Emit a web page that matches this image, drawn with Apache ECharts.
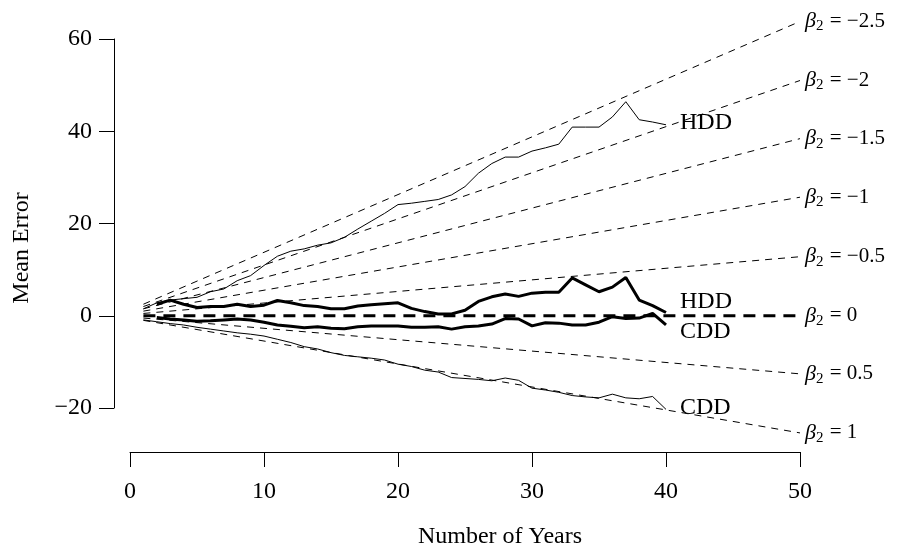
<!DOCTYPE html>
<html>
<head>
<meta charset="utf-8">
<title>Mean Error</title>
<script src="https://cdn.jsdelivr.net/npm/echarts@6.0.0/dist/echarts.min.js"></script>
<style>
  html, body { margin: 0; padding: 0; background: #fff; }
  #chart { width: 898px; height: 550px; }
</style>
</head>
<body>
<div id="chart"></div>
<script>
// years for the thin lines start at 1, thick ones at 2
var years = [1,2,3,4,5,6,7,8,9,10,11,12,13,14,15,16,17,18,19,20,
             21,22,23,24,25,26,27,28,29,30,31,32,33,34,35,36,37,38,39,40];
var hddThin = [1.5,2.8,3.4,3.7,4.0,5.2,5.8,7.6,8.7,10.9,12.9,14.0,14.5,15.3,15.8,17.0,18.8,20.5,22.2,24.1,
               24.4,24.8,25.2,26.2,28.0,30.9,33.0,34.4,34.4,35.7,36.4,37.2,40.9,40.9,40.9,43.1,46.4,42.5,42.0,41.4];
var cddThin = [-0.9,-1.3,-1.7,-2.0,-2.5,-2.9,-3.3,-3.7,-4.0,-4.4,-5.1,-5.8,-6.7,-7.2,-8.0,-8.6,-8.9,-9.2,-9.6,-10.5,
               -11.0,-11.8,-12.2,-13.4,-13.6,-13.8,-14.1,-13.5,-14.0,-15.7,-16.1,-16.6,-17.3,-17.6,-17.8,-17.0,-17.8,-18.0,-17.5,-20.3];
var hddThick = [2.5,3.4,2.5,1.8,2.0,2.0,2.5,2.0,2.3,3.3,2.8,2.2,2.0,1.5,1.5,2.1,2.4,2.6,2.8,
                1.6,0.9,0.4,0.4,1.2,3.1,4.1,4.7,4.2,4.9,5.1,5.1,8.2,6.7,5.2,6.2,8.3,3.4,2.2,0.7];
var cddThick = [-0.4,-0.7,-0.9,-1.2,-1.1,-0.9,-0.7,-0.9,-1.4,-2.0,-2.3,-2.6,-2.4,-2.7,-2.8,-2.4,-2.2,-2.2,-2.2,
                -2.5,-2.5,-2.4,-2.9,-2.4,-2.2,-1.8,-0.6,-0.7,-2.2,-1.5,-1.6,-2.0,-2.0,-1.4,-0.2,-0.6,-0.5,0.5,-2.0];

// reference lines for each beta_2, from year 1 to year 50
var betas = ['-2.5', '-2', '-1.5', '-1', '-0.5', '0', '0.5', '1'];
var betaStart = [2.5, 2, 1.5, 1, 0.5, 0, -0.5, -1];
var betaEnd = [63.8, 51, 38.4, 25.7, 12.8, 0, -12.6, -25.4];
var betaX = [1, 50];

var xTicks = [0, 10, 20, 30, 40, 50];
var yTicks = [-20, 0, 20, 40, 60];

var FONT = 'Liberation Serif';

function minus(s) {
    return String(s).replace('-', '\u2212');
}

function pairs(xs, ys, from) {
    var out = [];
    for (var i = 0; i < ys.length; i++) {
        out.push([xs[i + from], ys[i]]);
    }
    return out;
}

var series = [];

for (var k = 0; k < betas.length; k++) {
    var isZero = betas[k] == '0';
    series.push({
        type: 'line',
        name: 'beta' + betas[k],
        data: [[betaX[0], betaStart[k]], [betaX[1], betaEnd[k]]],
        symbol: 'none',
        clip: false,
        silent: true,
        z: isZero ? 3 : 2,
        lineStyle: {
            color: '#000',
            width: isZero ? 3 : 1,
            type: isZero ? [12, 8] : [7, 6]
        },
        endLabel: {
            show: true,
            distance: 5,
            color: '#000',
            fontFamily: FONT,
            fontSize: 21,
            formatter: (function (b) {
                return function () {
                    return '{i|\u03b2}{s|2}{t| = ' + minus(b) + '}';
                };
            })(betas[k]),
            rich: {
                i: { fontFamily: FONT, fontSize: 22, fontStyle: 'italic', color: '#000' },
                s: { fontFamily: FONT, fontSize: 15, color: '#000', padding: [10, 1, 0, 0] },
                t: { fontFamily: FONT, fontSize: 21, color: '#000' }
            }
        }
    });
}

function dataLine(name, data, width, off) {
    return {
        type: 'line',
        name: name,
        data: data,
        symbol: 'none',
        clip: false,
        silent: true,
        z: 4,
        lineStyle: { color: '#000', width: width },
        endLabel: {
            show: true,
            formatter: name,
            distance: 14,
            offset: off,
            color: '#000',
            fontFamily: FONT,
            fontSize: 24
        }
    };
}

series.push(dataLine('HDD', pairs(years, hddThin, 0), 1, [0, -2]));
series.push(dataLine('CDD', pairs(years, cddThin, 0), 1, [0, -2]));
series.push(dataLine('HDD', pairs(years, hddThick, 1), 3, [0, -11]));
series.push(dataLine('CDD', pairs(years, cddThick, 1), 3, [0, 7]));

var chart = echarts.init(document.getElementById('chart'));
chart.setOption({
    animation: false,
    backgroundColor: '#fff',
    grid: { left: 130, right: 98, top: 39, bottom: 142 },
    xAxis: {
        type: 'value',
        min: xTicks[0],
        max: xTicks[xTicks.length - 1],
        interval: 10,
        offset: 44,
        splitLine: { show: false },
        axisLine: { show: true, onZero: false, lineStyle: { color: '#000', width: 1 } },
        axisTick: { show: true, length: 15, lineStyle: { color: '#000' } },
        axisLabel: { margin: 28, color: '#000', fontFamily: FONT, fontSize: 24 }
    },
    yAxis: {
        type: 'value',
        min: yTicks[0],
        max: yTicks[yTicks.length - 1],
        interval: 20,
        offset: 16,
        splitLine: { show: false },
        axisLine: { show: true, onZero: false, lineStyle: { color: '#000', width: 1 } },
        axisTick: { show: true, length: 15, lineStyle: { color: '#000' } },
        axisLabel: {
            margin: 22,
            color: '#000',
            fontFamily: FONT,
            fontSize: 24,
            formatter: function (v) { return minus(v); }
        }
    },
    graphic: [
        {
            type: 'text',
            x: 22,
            y: 248,
            rotation: Math.PI / 2,
            style: {
                text: 'Mean Error',
                fill: '#000',
                font: '24px "Liberation Serif"',
                align: 'center',
                verticalAlign: 'middle'
            }
        },
        {
            type: 'text',
            x: 500,
            y: 537,
            style: {
                text: 'Number of Years',
                fill: '#000',
                font: '24px "Liberation Serif"',
                align: 'center',
                verticalAlign: 'middle'
            }
        }
    ],
    series: series
});
</script>
</body>
</html>
